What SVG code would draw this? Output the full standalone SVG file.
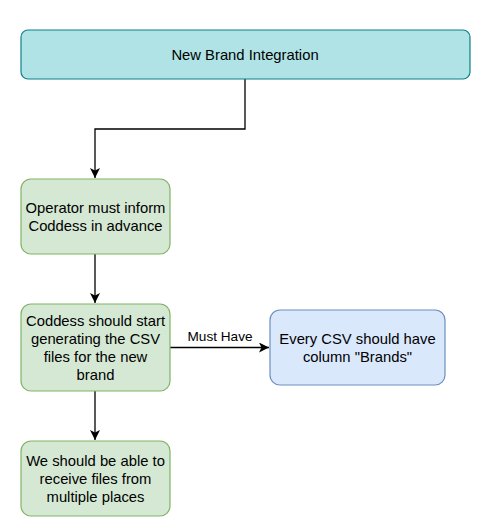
<svg xmlns="http://www.w3.org/2000/svg" width="479" height="532" viewBox="0 0 479 532">
<style>
text{font-family:"Liberation Sans",Arial,sans-serif;font-size:14.8px;fill:#000;text-anchor:middle}
.lbl{font-size:13.6px}
.teal{fill:#b0e3e6;stroke:#0e8088;stroke-width:1.2}
.green{fill:#d5e8d4;stroke:#82b366;stroke-width:1.2}
.blue{fill:#dae8fc;stroke:#6c8ebf;stroke-width:1.2}
.edge{fill:none;stroke:#000;stroke-width:1.3}
</style>
<defs>
<marker id="arr" viewBox="0 0 10 10" refX="10" refY="5" markerWidth="10" markerHeight="10" markerUnits="userSpaceOnUse" orient="auto">
<path d="M0,0 L10,5 L0,10 L2.5,5 Z" fill="#000"/>
</marker>
</defs>
<rect width="479" height="532" fill="#fff"/>
<g id="connectors">
<path class="edge" d="M245,79 V129 H95 V178" marker-end="url(#arr)"/>
<path class="edge" d="M95,254 V303" marker-end="url(#arr)"/>
<path class="edge" d="M170,347.5 H269" marker-end="url(#arr)"/>
<text class="lbl" x="220" y="340.5">Must Have</text>
<path class="edge" d="M95,391 V440" marker-end="url(#arr)"/>
</g>
<g id="n1"><rect class="teal" x="21" y="30" width="449" height="49" rx="7"/><text x="245" y="59.5">New Brand Integration</text></g>
<g id="n2"><rect class="green" x="21" y="179" width="149" height="75" rx="10"/><text x="95.5" y="212.8">Operator must inform</text><text x="95.5" y="230.8">Coddess in advance</text></g>
<g id="n3"><rect class="green" x="21" y="304" width="149" height="87" rx="10"/><text x="95.5" y="326.3">Coddess should start</text><text x="95.5" y="344.3">generating the CSV</text><text x="95.5" y="362.3">files for the new</text><text x="95.5" y="380.3">brand</text></g>
<g id="n4"><rect class="blue" x="270" y="310" width="175" height="75" rx="10"/><text x="357.5" y="344">Every CSV should have</text><text x="357.5" y="362">column "Brands"</text></g>
<g id="n5"><rect class="green" x="21" y="441" width="149" height="75" rx="10"/><text x="95.5" y="466">We should be able to</text><text x="95.5" y="484">receive files from</text><text x="95.5" y="502">multiple places</text></g>
</svg>
